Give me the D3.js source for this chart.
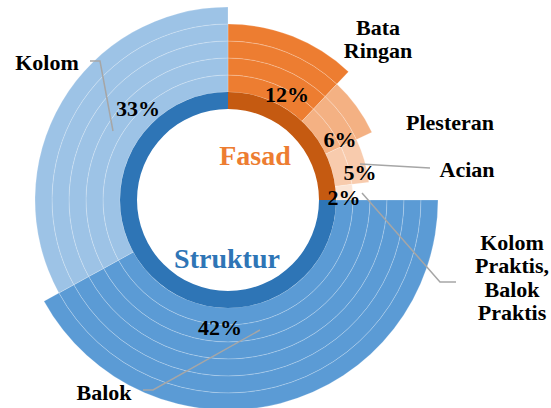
<!DOCTYPE html>
<html>
<head>
<meta charset="utf-8">
<script src="https://cdn.jsdelivr.net/npm/d3@7.9.0/dist/d3.min.js"></script>
<style>
  html, body { margin: 0; padding: 0; background: #fff; font-family: "Liberation Serif"; }
</style>
</head>
<body>
<svg id="chart" width="551" height="408" style="font-family: 'Liberation Serif'"></svg>
<script>
// groups (inner ring)
const groups = ["Fasad", "Struktur"];
const groupValues = [25, 75];
const groupColors = ["#C55A11", "#2E75B6"];
const groupTextColors = ["#ED7D31", "#2E75B6"];

// items (outer ring), clockwise from 12 o'clock
const items = ["Bata Ringan", "Plesteran", "Acian", "Kolom Praktis, Balok Praktis", "Balok", "Kolom"];
const itemValues = [12, 6, 5, 2, 42, 33];
const itemLevels = [4, 3, 2, 1, 6, 5];
const itemColors = ["#ED7D31", "#F4B183", "#F8CBAD", "#FBE5D6", "#5B9BD5", "#9DC3E6"];

// label layout (offset from centre)
const pctPos = [[59, -98], [112, -53], [132, -20], [116, 5], [-8, 135], [-90, -84]];
const namePos = [
  { lines: ["Bata", "Ringan"], x: 150, y: -165 },
  { lines: ["Plesteran"], x: 222, y: -70 },
  { lines: ["Acian"], x: 239, y: -23 },
  { lines: ["Kolom", "Praktis,", "Balok", "Praktis"], x: 284, y: 50 },
  { lines: ["Balok"], x: -124, y: 200 },
  { lines: ["Kolom"], x: -181, y: -130 }
];
const leaders = [
  null, null,
  [[132, -36], [202, -32]],
  [[134, -7], [212, 82], [228, 82]],
  [[-85, 190], [-75, 190], [32, 130]],
  [[-138, -139], [-128, -139], [-115, -69]]
];
const groupLabelPos = [[27, -35], [-1, 68]];

const svg = d3.select("#chart");
const cx = 228, cy = 200;
const hole = 91, ringW = 17;
const g = svg.append("g").attr("transform", `translate(${cx},${cy})`);

const pie = d3.pie().sort(null).value(d => d).startAngle(0).endAngle(2 * Math.PI);

// outer segments built from stacked rings
const itemArcs = pie(itemValues);
itemArcs.forEach((a, i) => {
  const cells = d3.range(itemLevels[i]);
  g.selectAll(null)
    .data(cells)
    .join("path")
    .attr("d", k => d3.arc()
      .innerRadius(hole + ringW * (k + 1))
      .outerRadius(hole + ringW * (k + 2))
      .startAngle(a.startAngle)
      .endAngle(a.endAngle)())
    .attr("fill", itemColors[i])
    .attr("stroke", "rgba(255,255,255,0.35)")
    .attr("stroke-width", 0.6);
});

// inner ring
const groupArcs = pie(groupValues);
const innerArc = d3.arc().innerRadius(hole).outerRadius(hole + ringW);
g.selectAll(".grp")
  .data(groupArcs)
  .join("path")
  .attr("class", "grp")
  .attr("d", innerArc)
  .attr("fill", (d, i) => groupColors[i]);

// leader lines
const line = d3.line();
leaders.forEach(l => {
  if (!l) return;
  g.append("path")
    .attr("d", line(l))
    .attr("fill", "none")
    .attr("stroke", "#A6A6A6")
    .attr("stroke-width", 1.5);
});

// percent labels
g.selectAll(".pct")
  .data(itemValues)
  .join("text")
  .attr("class", "pct")
  .attr("x", (d, i) => pctPos[i][0])
  .attr("y", (d, i) => pctPos[i][1])
  .attr("text-anchor", "middle")
  .style("font-family", "Liberation Serif")
  .style("font-weight", "bold")
  .style("font-size", "22px")
  .attr("fill", "#000")
  .text(d => d + "%");

// category labels
namePos.forEach(p => {
  const t = g.append("text")
    .attr("text-anchor", "middle")
    .style("font-family", "Liberation Serif")
    .style("font-weight", "bold")
    .style("font-size", "22px")
    .attr("fill", "#000");
  p.lines.forEach((s, j) => {
    t.append("tspan")
      .attr("x", p.x)
      .attr("y", p.y + j * 23.3)
      .text(s);
  });
});

// group labels
g.selectAll(".glab")
  .data(groups)
  .join("text")
  .attr("class", "glab")
  .attr("x", (d, i) => groupLabelPos[i][0])
  .attr("y", (d, i) => groupLabelPos[i][1])
  .attr("text-anchor", "middle")
  .style("font-family", "Liberation Serif")
  .style("font-weight", "bold")
  .style("font-size", "28px")
  .attr("fill", (d, i) => groupTextColors[i])
  .text(d => d);
</script>
</body>
</html>
